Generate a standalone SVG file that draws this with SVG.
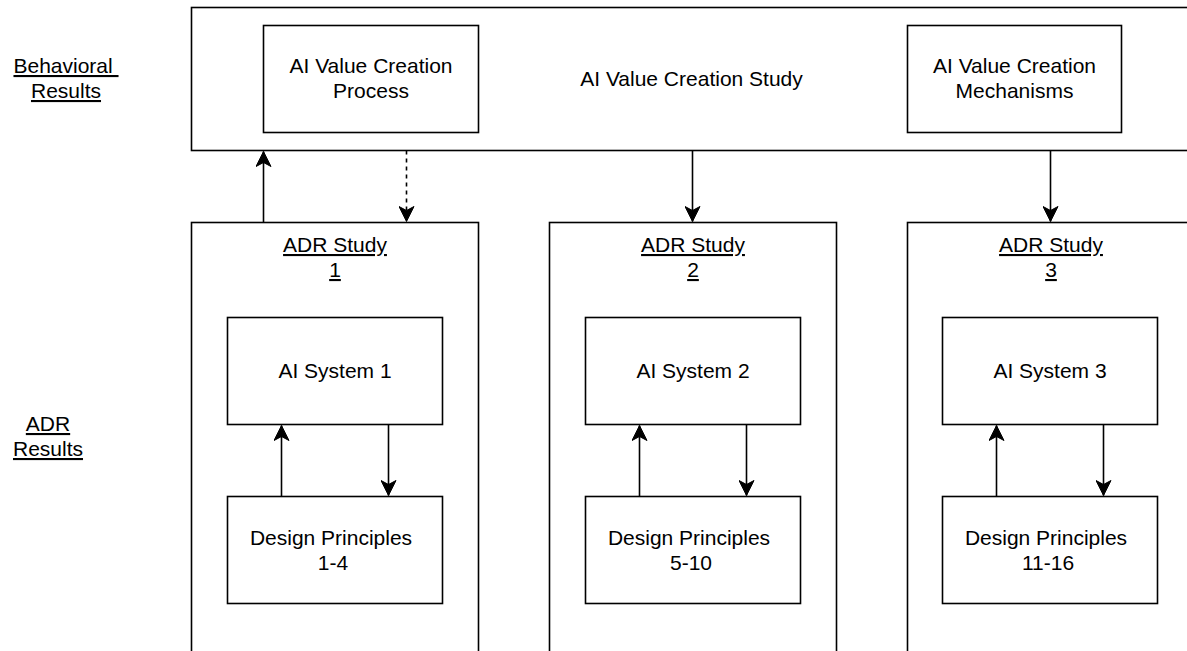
<svg xmlns="http://www.w3.org/2000/svg" width="1187" height="651" viewBox="0 0 1187 651">
  <style>
    .box { fill: #ffffff; stroke: #000000; stroke-width: 1.6; }
    .lbl { font-family: "Liberation Sans", Arial, Helvetica, sans-serif; font-size: 21px; fill: #000000; text-anchor: middle; }
    .ul { text-decoration: underline; }
    .edge { fill: none; stroke: #000000; stroke-width: 1.6; }
    .dash { stroke-dasharray: 4 4; }
  </style>
  <defs>
    <marker id="arrow" viewBox="-16 -8 17 16" refX="0" refY="0" markerWidth="17" markerHeight="16" markerUnits="userSpaceOnUse" orient="auto">
      <path d="M0,0 L-15,-7.5 L-11,0 L-15,7.5 Z" fill="#000000" stroke="#000000" stroke-width="1"/>
    </marker>
  </defs>

  <rect width="1187" height="651" fill="#ffffff"/>

  <!-- row labels -->
  <g id="label-behavioral">
    <text class="lbl ul" x="66" y="73" xml:space="preserve">Behavioral </text>
    <text class="lbl ul" x="66" y="98">Results</text>
  </g>
  <g id="label-adr">
    <text class="lbl ul" x="48" y="431">ADR</text>
    <text class="lbl ul" x="48" y="456">Results</text>
  </g>

  <!-- behavioral study container -->
  <g id="value-creation-study">
    <rect class="box" x="191.5" y="7.5" width="1010" height="143"/>
    <text class="lbl" x="691.5" y="86">AI Value Creation Study</text>
  </g>
  <g id="value-creation-process">
    <rect class="box" x="263.5" y="25.5" width="215" height="107"/>
    <text class="lbl" x="371" y="73">AI Value Creation</text>
    <text class="lbl" x="371" y="98">Process</text>
  </g>
  <g id="value-creation-mechanisms">
    <rect class="box" x="907.5" y="25.5" width="214" height="107"/>
    <text class="lbl" x="1014.5" y="73">AI Value Creation</text>
    <text class="lbl" x="1014.5" y="98">Mechanisms</text>
  </g>

  <!-- ADR studies -->
  <g id="adr-study-1">
    <rect class="box" x="191.5" y="222.5" width="287" height="440"/>
    <text class="lbl ul" x="335" y="252">ADR Study</text>
    <text class="lbl ul" x="335" y="277">1</text>
  </g>
  <g id="adr-study-2">
    <rect class="box" x="549.5" y="222.5" width="287" height="440"/>
    <text class="lbl ul" x="693" y="252">ADR Study</text>
    <text class="lbl ul" x="693" y="277">2</text>
  </g>
  <g id="adr-study-3">
    <rect class="box" x="907.5" y="222.5" width="287" height="440"/>
    <text class="lbl ul" x="1051" y="252">ADR Study</text>
    <text class="lbl ul" x="1051" y="277">3</text>
  </g>

  <!-- AI systems -->
  <g id="ai-system-1">
    <rect class="box" x="227.5" y="317.5" width="215" height="107"/>
    <text class="lbl" x="335" y="378">AI System 1</text>
  </g>
  <g id="ai-system-2">
    <rect class="box" x="585.5" y="317.5" width="215" height="107"/>
    <text class="lbl" x="693" y="378">AI System 2</text>
  </g>
  <g id="ai-system-3">
    <rect class="box" x="942.5" y="317.5" width="215" height="107"/>
    <text class="lbl" x="1050" y="378">AI System 3</text>
  </g>

  <!-- design principles -->
  <g id="design-principles-1">
    <rect class="box" x="227.5" y="496.5" width="215" height="107"/>
    <text class="lbl" x="331" y="545">Design Principles</text>
    <text class="lbl" x="333" y="570">1-4</text>
  </g>
  <g id="design-principles-2">
    <rect class="box" x="585.5" y="496.5" width="215" height="107"/>
    <text class="lbl" x="689" y="545">Design Principles</text>
    <text class="lbl" x="691" y="570">5-10</text>
  </g>
  <g id="design-principles-3">
    <rect class="box" x="942.5" y="496.5" width="215" height="107"/>
    <text class="lbl" x="1046" y="545">Design Principles</text>
    <text class="lbl" x="1048" y="570">11-16</text>
  </g>

  <!-- connectors -->
  <g id="connectors">
    <path class="edge" d="M263.5,222.5 V151.5" marker-end="url(#arrow)"/>
    <path class="edge dash" d="M406.5,150.5 V221.5" marker-end="url(#arrow)"/>
    <path class="edge" d="M692.5,150.5 V221.5" marker-end="url(#arrow)"/>
    <path class="edge" d="M1050.5,150.5 V221.5" marker-end="url(#arrow)"/>

    <path class="edge" d="M281.5,496.5 V425.5" marker-end="url(#arrow)"/>
    <path class="edge" d="M388.5,424.5 V495.5" marker-end="url(#arrow)"/>
    <path class="edge" d="M639.5,496.5 V425.5" marker-end="url(#arrow)"/>
    <path class="edge" d="M746.5,424.5 V495.5" marker-end="url(#arrow)"/>
    <path class="edge" d="M996.5,496.5 V425.5" marker-end="url(#arrow)"/>
    <path class="edge" d="M1103.5,424.5 V495.5" marker-end="url(#arrow)"/>
  </g>
</svg>
